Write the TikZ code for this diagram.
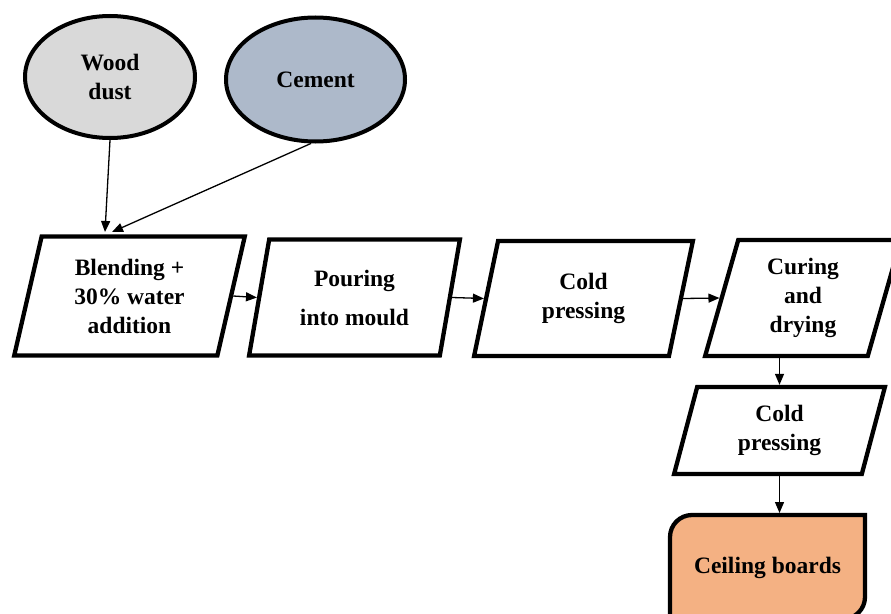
\documentclass[tikz,border=0pt]{standalone}
\usepackage{fontspec}
\setmainfont{Liberation Serif}
\usetikzlibrary{shapes.geometric,arrows.meta,calc}
\definecolor{woodfill}{HTML}{D9D9D9}
\definecolor{cementfill}{HTML}{ADB9CA}
\definecolor{ceilfill}{HTML}{F4B183}
\begin{document}
\begin{tikzpicture}[x=1pt,y=-1pt,
  txt/.style={font=\fontsize{23.5}{29}\selectfont\bfseries, align=center, text=black},
  oval/.style={ellipse, draw=black, line width=4pt, inner sep=0pt, txt},
  para/.style={trapezium, trapezium left angle=77, trapezium right angle=103,
    trapezium stretches=true, draw=black, line width=4.3pt, fill=white, inner sep=0pt, txt},
  arr/.style={line width=1.3pt, -{Triangle[length=11pt,width=9pt]}}]
\clip (0,0) rectangle (891,613);
\fill[white] (0,0) rectangle (891,613);
% inputs
\node[oval, fill=woodfill, minimum width=170pt, minimum height=122pt] (wood) at (110,77) {Wood\\dust};
\node[oval, fill=cementfill, minimum width=179pt, minimum height=124pt] (cement) at (315.5,79.5) {Cement};
% process steps
\node[para, minimum width=231pt, minimum height=119pt] (blend) at (129.5,296) {Blending +\\30\% water\\addition};
\node[para, minimum width=211pt, minimum height=116pt] (pour) at (354.5,297.5) {Pouring\\[10pt]into mould};
\node[para, minimum width=219pt, minimum height=115pt] (cold) at (583.5,298.5) {Cold\\pressing};
\node[para, minimum width=196pt, minimum height=116pt] (cure) at (803,298) {Curing\\and\\drying};
\node[para, minimum width=211pt, minimum height=87pt] (cold2) at (779.5,430.5) {Cold\\pressing};
% final product
\node[txt, minimum width=199pt, minimum height=108pt, inner sep=0pt, outer sep=0pt] (cb) at (767.5,567) {};
\draw[line width=4.3pt, fill=ceilfill]
  ([shift={(2pt,2pt)}]cb.south west)
  -- ($(cb.north west)+(2pt,-24pt)$) arc[start angle=180, end angle=90, radius=22pt]
  -- ([shift={(-2pt,-2pt)}]cb.north east)
  -- ($(cb.south east)+(-2pt,24pt)$) arc[start angle=0, end angle=-90, radius=22pt]
  -- cycle;
\node[txt] at ([yshift=-1pt]cb.center) {Ceiling boards};
% connector ends
\coordinate (in1) at (105,232);
\coordinate (in2) at (112,232);
% connectors
\draw[arr] (wood.south) -- (in1);
\draw[arr] (cement.266) -- (in2);
\draw[arr] (blend.east) -- (pour.west);
\draw[arr] (pour.east) -- (cold.west);
\draw[arr] (cold.east) -- (cure.west);
\draw[arr] (cure.south -| cold2.center) -- (cold2.north -| cold2.center);
\draw[arr] (cold2.south -| cold2.center) -- (cold2.center |- cb.north);
\end{tikzpicture}
\end{document}
